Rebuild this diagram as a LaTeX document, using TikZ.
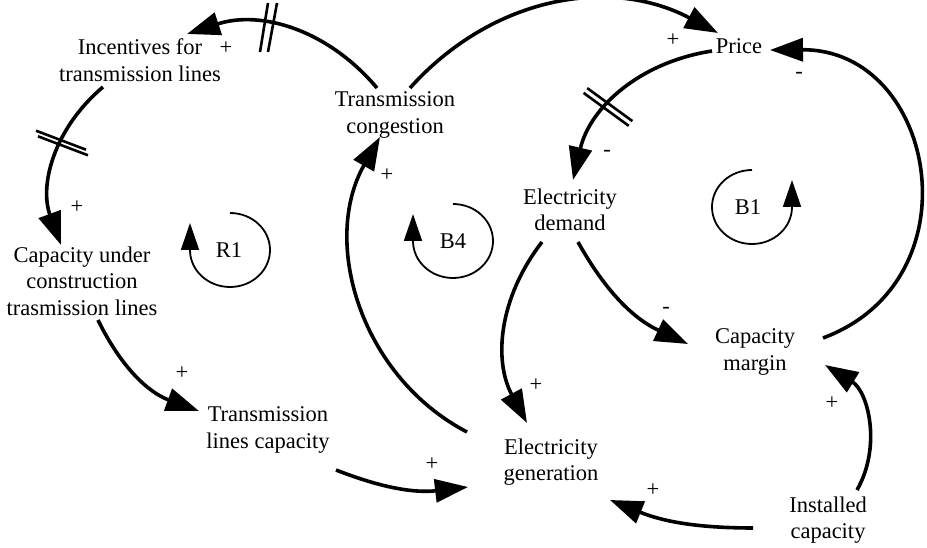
\documentclass[tikz,border=0pt]{standalone}
\usepackage{fontspec}
\setmainfont{Liberation Serif}
\usetikzlibrary{arrows.meta}
\begin{document}
\begin{tikzpicture}[x=1pt,y=1pt,
  var/.style={align=center,inner sep=0pt,font=\fontsize{22.5}{26.5}\selectfont},
  pol/.style={inner sep=0pt,font=\fontsize{22.5}{26.5}\selectfont},
  loopname/.style={inner sep=0pt,font=\fontsize{22.5}{26.5}\selectfont},
  conn/.style={line width=3.6pt,-{Triangle[length=33pt,width=23pt]}},
  loopline/.style={line width=1.8pt,-{Triangle[length=27pt,width=18pt]}},
  delay/.style={line width=2.6pt}]
\useasboundingbox (0,0) rectangle (927,-548);

% variables
\node[var] (inc)   at (140,-60)  {Incentives for\\transmission lines};
\node[var] (cong)  at (395,-115) {Transmission\\congestion};
\node[var] (price) at (739,-46)  {Price};
\node[var] (dem)   at (570,-210) {Electricity\\demand};
\node[var] (cuc)   at (82,-281)  {Capacity under\\construction\\trasmission lines};
\node[var] (tlc)   at (268,-430) {Transmission\\lines capacity};
\node[var] (gen)   at (551,-462) {Electricity\\generation};
\node[var] (marg)  at (755,-352) {Capacity\\margin};
\node[var] (inst)  at (828,-520) {Installed\\capacity};

% causal links
\draw[conn] ([shift={(-18,27)}]cong.center) to[bend right=34] ([shift={(47,26)}]inc.center);
\draw[conn] ([shift={(-37,-27)}]inc.center) to[bend right=35] ([shift={(-21,36)}]cuc.center);
\draw[conn] ([shift={(16,-39)}]cuc.center) to[bend right=22] ([shift={(-69,19)}]tlc.center);
\draw[conn] ([shift={(68,-40)}]tlc.center) to[bend right=14] ([shift={(-83,-25)}]gen.center);
\draw[conn] ([shift={(-84,30)}]gen.center) to[bend left=46] ([shift={(-15,-22)}]cong.center);
\draw[conn] ([shift={(15,27)}]cong.center) to[bend left=38] ([shift={(-21,13)}]price.center);
\draw[conn] ([shift={(68,14)}]marg.center) to[bend right=80,looseness=1.45] ([shift={(31,-4)}]price.center);
\draw[conn] ([shift={(-27,-5)}]price.center) to[bend right=34] ([shift={(3,30)}]dem.center);
\draw[conn] ([shift={(-28,-32)}]dem.center) to[bend right=33] ([shift={(-24,39)}]gen.center);
\draw[conn] ([shift={(8,-32)}]dem.center) to[bend right=18] ([shift={(-67,8)}]marg.center);
\draw[conn] ([shift={(29,30)}]inst.center) to[bend right=44] ([shift={(70,-13)}]marg.center);
\draw[conn] ([shift={(-75,-8)}]inst.center) to[bend left=11] ([shift={(59,-38)}]gen.center);

% delay marks
\draw[delay] (268,-3) -- (260,-52);
\draw[delay] (277,-3) -- (268,-52);
\draw[delay] (36,-130.7) -- (86,-149.7);
\draw[delay] (38,-136.3) -- (88,-155.3);
\draw[delay] (583.6,-92.9) -- (628.8,-125.9);
\draw[delay] (587.2,-88.1) -- (632.4,-121.1);

% polarities
\node[pol] (p1)  at (226,-48)  {+};
\node[pol] (p2)  at (77,-207)  {+};
\node[pol] (p3)  at (182,-373) {+};
\node[pol] (p4)  at (432,-464) {+};
\node[pol] (p5)  at (387,-175) {+};
\node[pol] (p6)  at (673,-40)  {+};
\node[pol] (p7)  at (799,-75)  {-};
\node[pol] (p8)  at (607,-153) {-};
\node[pol] (p9)  at (536,-385) {+};
\node[pol] (p10) at (666,-310) {-};
\node[pol] (p11) at (832,-403) {+};
\node[pol] (p12) at (653,-490) {+};

% loop identifiers
\node[loopname] (r1) at (229,-250) {R1};
\node[loopname] (b4) at (453,-241) {B4};
\node[loopname] (b1) at (748,-207) {B1};
\draw[loopline] (230,-213) arc[start angle=90,end angle=-180,x radius=40,y radius=37] -- ++(0,27);
\draw[loopline] (453,-204) arc[start angle=90,end angle=-180,x radius=40,y radius=37] -- ++(0,27);
\draw[loopline] (752,-170) arc[start angle=90,end angle=360,x radius=40,y radius=37] -- ++(0,27);
\end{tikzpicture}
\end{document}
